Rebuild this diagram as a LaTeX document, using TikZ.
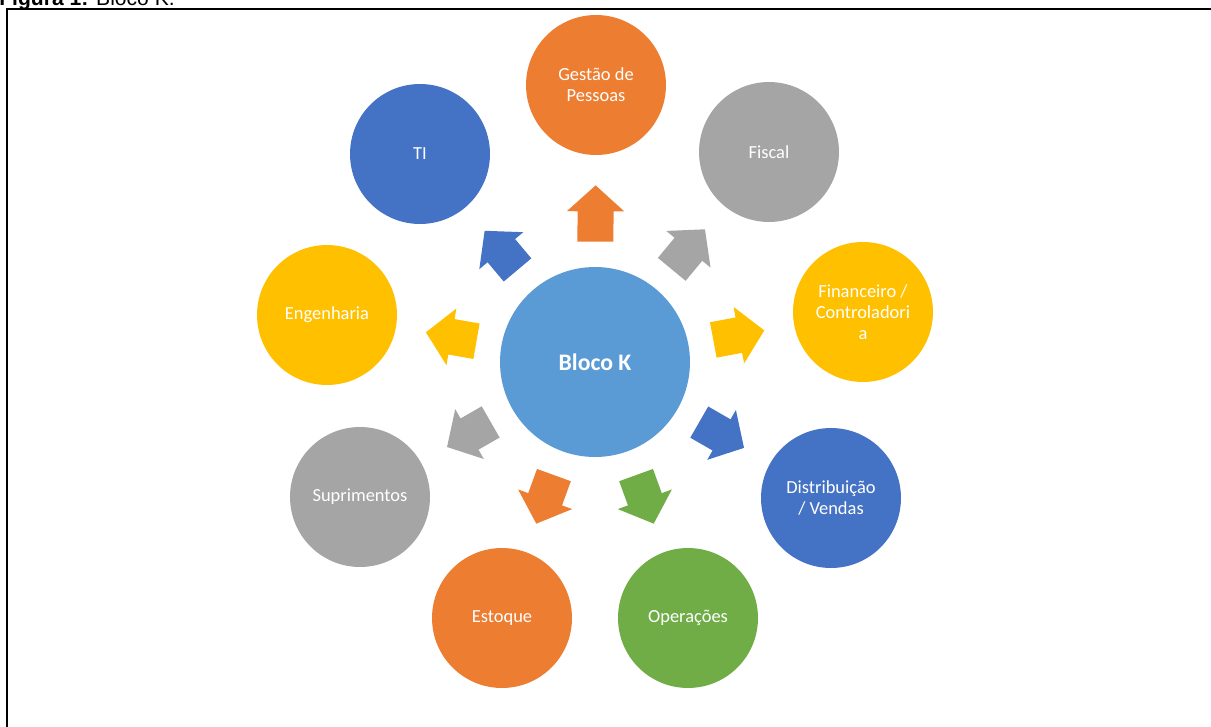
\documentclass[tikz,border=0pt]{standalone}
\usepackage{fontspec}
\setmainfont{Carlito}
\newfontfamily\capfont{Liberation Sans}
\usepackage{xcolor}
\usepackage{tikz}
\usetikzlibrary{arrows.meta}
\definecolor{bkCenter}{HTML}{5B9BD5}
\definecolor{bkOrange}{HTML}{ED7D31}
\definecolor{bkGray}{HTML}{A5A5A5}
\definecolor{bkYellow}{HTML}{FFC000}
\definecolor{bkBlue}{HTML}{4472C4}
\definecolor{bkGreen}{HTML}{70AD47}

\begin{document}
\begin{tikzpicture}[
    x=0.02cm,y=-0.02cm,
    font=\fontsize{10.5}{12}\selectfont,
    hub/.style={circle,fill=bkCenter,minimum size=3.8cm,inner sep=0pt,align=center,
                text=white,font=\fontsize{13.5}{16}\selectfont\bfseries},
    area/.style={circle,minimum size=2.8cm,inner sep=0pt,align=center,text=white},
    push/.style={line width=0.72cm,-{Triangle[length=0.52cm,width=1.12cm]},
                 shorten <=0.5cm,shorten >=0.6cm},
    caption/.style={anchor=base west,inner sep=0pt,font=\capfont\fontsize{12}{14}\selectfont}
  ]
    \clip (0,0) rectangle (1211,727);
    \fill[white] (0,0) rectangle (1211,727);

    \node[caption] (cap) at (-1,5) {\textbf{Figura 1:} Bloco K.};
    \draw[line width=0.04cm] (7,740) -- (7,9) -- (1220,9);

    \node[hub] (bloco) at (595,362) {Bloco K};

    \node[area,fill=bkOrange] (gestao)  at (596,85)  {Gestão de\\Pessoas};
    \node[area,fill=bkGray]   (fiscal)  at (769,152) {Fiscal};
    \node[area,fill=bkYellow] (financ)  at (863,312) {Financeiro /\\Controladori\\a};
    \node[area,fill=bkBlue]   (distrib) at (831,498) {Distribuição\\/ Vendas};
    \node[area,fill=bkGreen]  (operac)  at (688,618) {Operações};
    \node[area,fill=bkOrange] (estoque) at (502,618) {Estoque};
    \node[area,fill=bkGray]   (suprim)  at (360,497) {Suprimentos};
    \node[area,fill=bkYellow] (engen)   at (327,315) {Engenharia};
    \node[area,fill=bkBlue]   (ti)      at (420,154) {TI};

    \draw[push,draw=bkOrange] (bloco) -- (gestao);
    \draw[push,draw=bkGray]   (bloco) -- (fiscal);
    \draw[push,draw=bkYellow] (bloco) -- (financ);
    \draw[push,draw=bkBlue]   (bloco) -- (distrib);
    \draw[push,draw=bkGreen]  (bloco) -- (operac);
    \draw[push,draw=bkOrange] (bloco) -- (estoque);
    \draw[push,draw=bkGray]   (bloco) -- (suprim);
    \draw[push,draw=bkYellow] (bloco) -- (engen);
    \draw[push,draw=bkBlue]   (bloco) -- (ti);
  \end{tikzpicture}
\end{document}
